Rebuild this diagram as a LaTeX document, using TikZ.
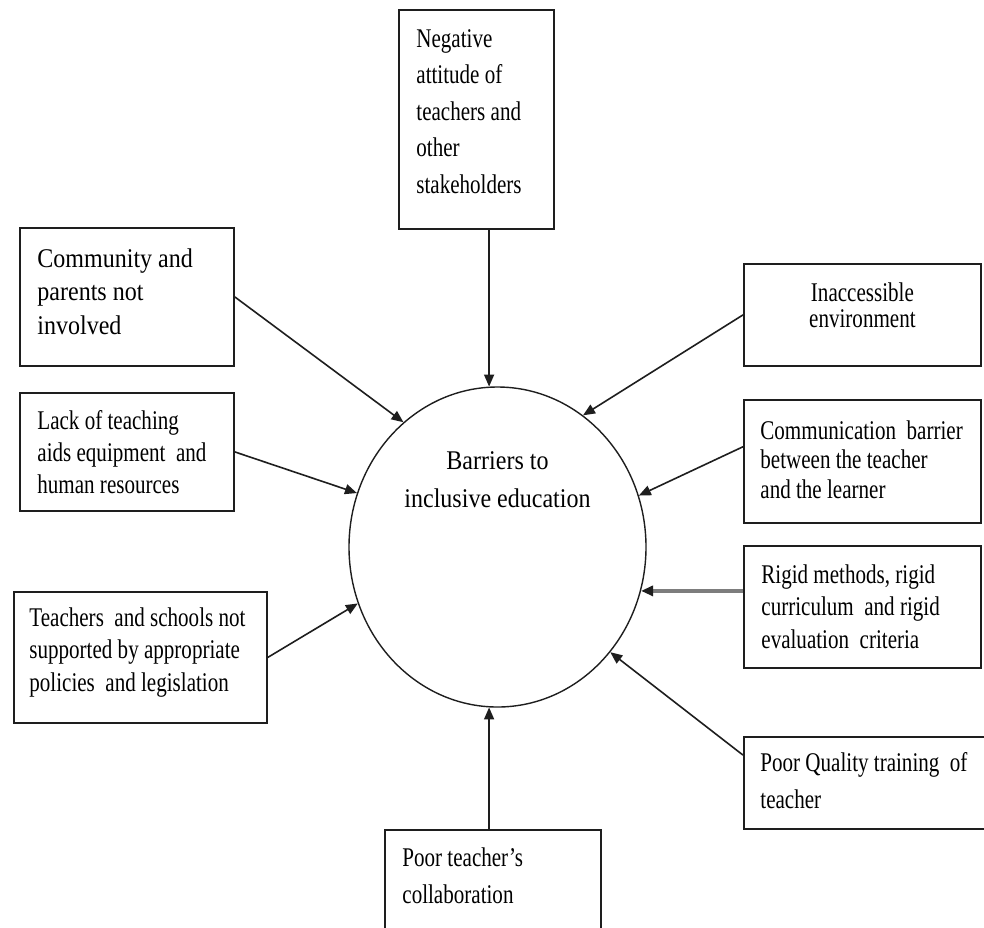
\documentclass[tikz,border=0pt]{standalone}
\usepackage{fontspec}
\setmainfont{Liberation Serif}
\newfontfamily\narrowserif{Liberation Serif}[FakeStretch=0.78]
\newfontfamily\wideserif{Liberation Serif}[FakeStretch=0.89]
\usepackage{tikz}
\usetikzlibrary{shapes.geometric, arrows.meta, positioning}
\usepackage{xcolor}
\definecolor{InkGrey}{RGB}{30,30,30}
\definecolor{RuleGrey}{RGB}{125,125,125}

\begin{document}
\begin{tikzpicture}[x=0.5pt, y=-0.5pt,
          box/.style={rectangle, draw=InkGrey, line width=0.9pt, anchor=north west, inner sep=0pt},
          hub/.style={ellipse, draw=InkGrey, line width=0.7pt, minimum width=148.5pt, minimum height=160pt, inner sep=0pt},
          cause/.style={font=\narrowserif\fontsize{13.5pt}{#1}\selectfont, align=left, anchor=north west, inner sep=0pt},
          cause/.default=16pt,
          wide/.style={font=\wideserif\fontsize{13.5pt}{#1}\selectfont},
          feed/.style={draw=InkGrey, line width=0.8pt, -{Triangle[length=6pt, width=5pt]}}
        ]
          \useasboundingbox (0,0) rectangle (984,927);
          \fill[white] (0,0) rectangle (984,927);

          % centre of the diagram
          \node (hub) [hub] at (497.5,547) {};
          \node [cause, wide=19pt, align=center, anchor=north, below=32.5pt of hub.north] {Barriers to\\inclusive education};

          % boxes round the centre
          \node (attitude) [box, minimum width=77.5pt, minimum height=109.5pt] at (398,9) {};
          \node (community) [box, minimum width=107pt, minimum height=69pt] at (19,227) {};
          \node (lack) [box, minimum width=107pt, minimum height=59pt] at (19,392) {};
          \node (policy) [box, minimum width=126.5pt, minimum height=65.5pt] at (13,591) {};
          \node (collab) [box, minimum width=108pt, minimum height=65pt] at (384,829) {};
          \node (access) [box, minimum width=118.5pt, minimum height=51pt] at (743,263) {};
          \node (comm) [box, minimum width=118.5pt, minimum height=61.5pt] at (743,399) {};
          \node (rigid) [box, minimum width=118.5pt, minimum height=61pt] at (743,545) {};
          \node (quality) [box, minimum width=130pt, minimum height=46pt] at (743,736) {};

          % texts in the boxes
          \node [cause=18.25pt, below right=10pt and 9pt of attitude.north west] {Negative\\attitude of\\teachers and\\other\\stakeholders};
          \node [cause, wide=16.75pt, below right=10.5pt and 9pt of community.north west] {Community and\\parents not\\involved};
          \node [cause=16pt, below right=9pt and 9pt of lack.north west] {Lack of teaching\\aids equipment\ \ and\\human resources};
          \node [cause=16.25pt, below right=8pt and 8pt of policy.north west] {Teachers\ \ and schools not\\supported by appropriate\\policies\ \ and legislation};
          \node [cause=18.5pt, below right=9pt and 9pt of collab.north west] {Poor teacher’s\\collaboration};
          \node [cause=13pt, align=center, anchor=north, below=9.5pt of access.north] {Inaccessible\\environment};
          \node [cause=14.75pt, below right=10.5pt and 8.5pt of comm.north west] {Communication\ \ barrier\\between the teacher\\and the learner};
          \node [cause=16.25pt, below right=9.5pt and 9pt of rigid.north west] {Rigid methods, rigid\\curriculum\ \ and rigid\\evaluation\ \ criteria};
          \node [cause=18.5pt, below right=8pt and 8.5pt of quality.north west] {Poor Quality training\ \ of\\teacher};

          % arrows into the centre
          \draw [feed] (attitude.south -| hub.93) -- (hub.93);
          \draw [feed] (community.east) -- (hub.127);
          \draw [feed] (lack.east) -- (hub.159);
          \draw [feed] (policy.east) -- (hub.202);
          \draw [feed] (collab.north -| hub.267) -- (hub.267);
          \draw [feed] (quality.168) -- (hub.317);
          \draw [feed, draw=RuleGrey, line width=1.8pt, -{Triangle[length=6pt, width=5pt, color=InkGrey]}] (rigid.west |- hub.343) -- (hub.343);
          \draw [feed] (comm.173) -- (hub.20);
          \draw [feed] (access.west) -- (hub.57);
        \end{tikzpicture}
\end{document}
